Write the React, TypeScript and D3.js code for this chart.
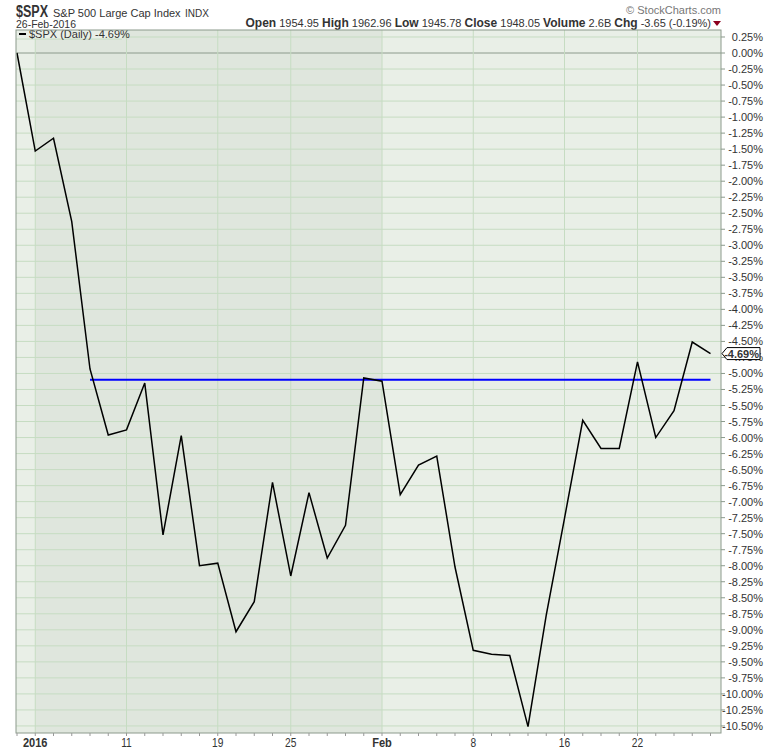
import React from "react";
import * as d3 from "d3";

const dates: string[] = [
  "Dec31", "Jan4", "Jan5", "Jan6", "Jan7", "Jan8", "Jan11", "Jan12", "Jan13", "Jan14", "Jan15",
  "Jan19", "Jan20", "Jan21", "Jan22", "Jan25", "Jan26", "Jan27", "Jan28", "Jan29",
  "Feb1", "Feb2", "Feb3", "Feb4", "Feb5", "Feb8", "Feb9", "Feb10", "Feb11", "Feb12",
  "Feb16", "Feb17", "Feb18", "Feb19", "Feb22", "Feb23", "Feb24", "Feb25", "Feb26",
];
const pctChange: number[] = [
  0, -1.53, -1.33, -2.63, -4.93, -5.96, -5.88, -5.15, -7.52, -5.97, -8.0,
  -7.96, -9.03, -8.56, -6.7, -8.16, -6.86, -7.88, -7.37, -5.07,
  -5.12, -6.89, -6.43, -6.29, -8.02, -9.32, -9.38, -9.4, -10.51, -8.77,
  -7.26, -5.73, -6.17, -6.17, -4.82, -6.0, -5.58, -4.51, -4.69,
];
const xTickLabels: string[] = ["2016", "11", "19", "25", "Feb", "8", "16", "22"];
const xTickDates: string[] = ["Jan4", "Jan11", "Jan19", "Jan25", "Feb1", "Feb8", "Feb16", "Feb22"];
const boldTicks: string[] = ["2016", "Feb"];
const levelValue = -5.1;
const levelStart = "Jan7";
const shadeStart = "Jan4";
const shadeEnd = "Feb1";
const yTicks: number[] = d3.range(1, -43, -1).map((k) => k * 0.25);

const W = 780, H = 750;
const L = 16, R = 721, T = 30, B = 733;

export default function App() {
  const x = d3.scaleLinear().domain([0, dates.length - 1]).range([17, 710.5]);
  const y = d3.scaleLinear().domain([-10.61, 0.359]).range([B, T]);
  const idx = (d: string) => dates.indexOf(d);
  const line = d3.line<number>().x((_, i) => x(i)).y((v) => y(v));
  const font = "'Liberation Sans', Arial, sans-serif";
  const last = pctChange[pctChange.length - 1];
  const ly = y(last);
  return (
    <svg width={W} height={H} style={{ position: "absolute", left: 0, top: 0 }} fontFamily={font}>
      <rect x={0} y={0} width={W} height={H} fill="#ffffff" />
      {/* header */}
      <text x={16} y={17} fontSize={16} fontWeight="bold" fill="#333" textLength={32} lengthAdjust="spacingAndGlyphs">$SPX</text>
      <text x={53} y={17} fontSize={11} fill="#333">S&amp;P 500 Large Cap Index</text>
      <text x={185} y={17} fontSize={10} fill="#333">INDX</text>
      <text x={16} y={28} fontSize={11} fill="#333" textLength={60} lengthAdjust="spacingAndGlyphs">26-Feb-2016</text>
      <text x={721} y={14} fontSize={11} fill="#777" textAnchor="end">© StockCharts.com</text>
      <text x={711} y={27} fontSize={11} fill="#333" textAnchor="end">
        <tspan fontWeight="bold" fontSize={12}>Open</tspan> 1954.95{"  "}
        <tspan fontWeight="bold" fontSize={12}>High</tspan> 1962.96{"  "}
        <tspan fontWeight="bold" fontSize={12}>Low</tspan> 1945.78{"  "}
        <tspan fontWeight="bold" fontSize={12}>Close</tspan> 1948.05{"  "}
        <tspan fontWeight="bold" fontSize={12}>Volume</tspan> 2.6B{"  "}
        <tspan fontWeight="bold" fontSize={12}>Chg</tspan> -3.65 (-0.19%)
      </text>
      <path d="M713,21 L721,21 L717,26 Z" fill="#8b0020" />
      {/* plot background */}
      <rect x={L} y={T} width={R - L} height={B - T} fill="#e9efe7" />
      <rect x={x(idx(shadeStart))} y={T} width={x(idx(shadeEnd)) - x(idx(shadeStart))} height={B - T} fill="#dfe6dd" />
      {/* grid */}
      {yTicks.map((v) => (
        <line key={"g" + v} x1={L} x2={R} y1={y(v)} y2={y(v)} stroke={v === 0 ? "#8c9a8c" : "#c6dcc2"} strokeWidth={1} />
      ))}
      {xTickDates.map((d) => (
        <line key={"v" + d} x1={x(idx(d))} x2={x(idx(d))} y1={T} y2={B} stroke="#c6dcc2" strokeWidth={1} />
      ))}
      {/* legend */}
      <rect x={L} y={T} width={106} height={9} fill="#e9efe7" />
      <line x1={L} x2={L + 106} y1={T + 9} y2={T + 9} stroke="#c6dcc2" />
      <line x1={19} x2={26} y1={T + 4} y2={T + 4} stroke="#000" strokeWidth={2} />
      <text x={29} y={T + 8} fontSize={11} fill="#333">$SPX (Daily) -4.69%</text>
      {/* level line */}
      <line x1={x(idx(levelStart))} x2={x(dates.length - 1)} y1={y(levelValue)} y2={y(levelValue)} stroke="#0000ff" strokeWidth={2} />
      {/* price line */}
      <path d={line(pctChange) || ""} fill="none" stroke="#000" strokeWidth={1.5} strokeLinejoin="miter" />
      {/* border */}
      <rect x={L} y={T} width={R - L} height={B - T} fill="none" stroke="#8c9a8c" strokeWidth={1} />
      {/* y axis */}
      {yTicks.map((v) => (
        <g key={"t" + v}>
          <line x1={R} x2={R + 4} y1={y(v)} y2={y(v)} stroke="#8c9a8c" />
          <text x={763} y={y(v) + 4} fontSize={11} fill="#333" textAnchor="end">{v.toFixed(2)}%</text>
        </g>
      ))}
      {/* x axis */}
      {dates.map((d, i) => (
        <line key={"m" + d} x1={x(i)} x2={x(i)} y1={B} y2={B + 3} stroke="#999" />
      ))}
      {xTickDates.map((d, i) => (
        <text key={"xl" + d} x={x(idx(d))} y={747} fontSize={boldTicks.includes(xTickLabels[i]) ? 13 : 12}
          fontWeight={boldTicks.includes(xTickLabels[i]) ? "bold" : "normal"} fill="#333" textAnchor="middle"
          transform={`translate(${x(idx(d))},0) scale(0.85,1) translate(${-x(idx(d))},0)`}>
          {xTickLabels[i]}
        </text>
      ))}
      {/* last value tag */}
      <path d={`M${R + 1},${ly} L${R + 6},${ly - 6} L${R + 39},${ly - 6} L${R + 39},${ly + 6} L${R + 6},${ly + 6} Z`} fill="#ffffff" stroke="#000" strokeWidth={1} />
      <text x={R + 38} y={ly + 4} fontSize={11} fontWeight="bold" fill="#333" textAnchor="end">{last.toFixed(2)}%</text>
    </svg>
  );
}
